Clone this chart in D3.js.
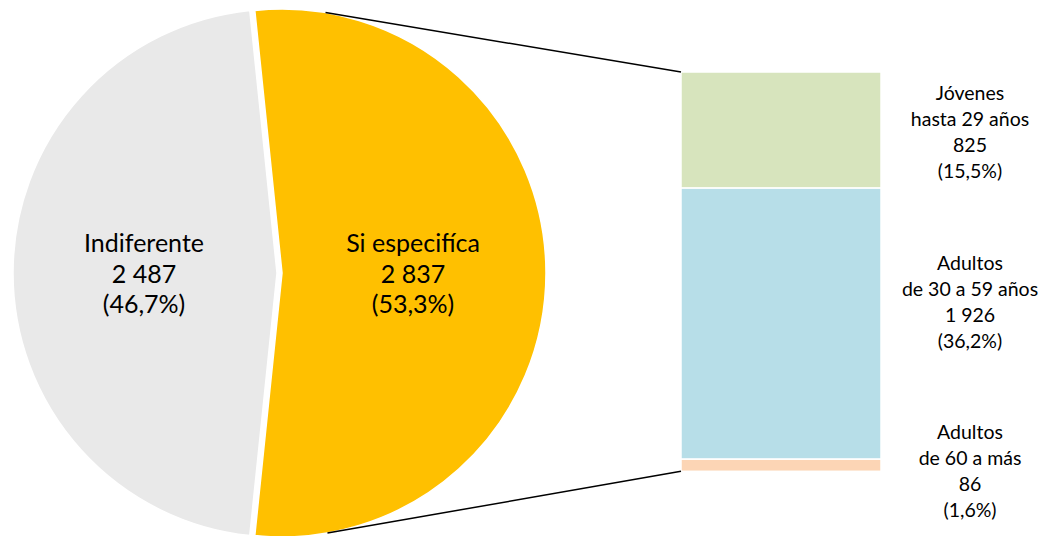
<!DOCTYPE html>
<html>
<head>
<meta charset="utf-8">
<script src="https://cdn.jsdelivr.net/npm/d3@7"></script>
<style>
	body { margin: 0; background: #fff; }
	#chart { width: 1043px; height: 536px; }
	text { font-family: Lato, "Open Sans", sans-serif; fill: #000; }
</style>
</head>
<body>
<div id="chart"><svg width="1043" height="536"></svg></div>
<script>
// data
const pieNames = ["Si especifíca", "Indiferente"];
const pieValues = [2837, 2487];
const pieColors = ["#FFC000", "#E9E9E9"];

const barNames = [["Jóvenes", "hasta 29 años"], ["Adultos", "de 30 a 59 años"], ["Adultos", "de 60 a más"]];
const barValues = [825, 1926, 86];
const barColors = ["#D7E4BD", "#B7DEE8", "#FCD5B5"];

// label centre offsets from segment middle (layout)
const barLabelShift = [2, -21, 6];

const locale = d3.formatLocale({decimal: ",", thousands: " ", grouping: [3], currency: ["", ""]});
const fmtN = locale.format(",d");
const fmtP = locale.format(".1f");

const svg = d3.select("#chart").select("svg");
const total = d3.sum(pieValues);

// pie
const cx = 279.5, cy = 273, r = 264;
const explode = 2.5;
const goldSpan = 2 * Math.PI * pieValues[0] / total;
const start = Math.PI / 2 - goldSpan / 2;

const pie = d3.pie().sort(null).startAngle(start).endAngle(start + 2 * Math.PI);
const arcs = pie(pieValues);
const arc = d3.arc().innerRadius(0).outerRadius(r);

const offset = d => {
	const a = (d.startAngle + d.endAngle) / 2;
	return [explode * Math.sin(a), -explode * Math.cos(a)];
};

const pieG = svg.append("g").attr("transform", `translate(${cx}, ${cy})`);

pieG.selectAll(".slice")
  .data(arcs)
	.enter()
  .append("path")
	.attr("class", "slice")
	.attr("transform", d => `translate(${offset(d)})`)
	.attr("d", arc)
	.attr("fill", (d, i) => pieColors[i])
	.attr("stroke", "#fff")
	.attr("stroke-width", 1.5);

pieG.selectAll(".pieLabel")
  .data(arcs)
	.enter()
  .append("text")
	.attr("class", "pieLabel")
	.attr("text-anchor", "middle")
	.attr("font-size", "25px")
	.each(function(d, i) {
		const c = arc.centroid(d);
		const o = offset(d);
		const lines = [pieNames[i], fmtN(d.value), "(" + fmtP(d.value / total * 100) + "%)"];
		d3.select(this).selectAll("tspan")
		  .data(lines)
			.enter()
		  .append("tspan")
			.attr("x", c[0] + o[0] - 1)
			.attr("y", (l, j) => c[1] + 1 + (j - 1) * 30.5)
			.attr("dy", "0.35em")
			.text(l => l);
	});

// bar
const barX = 681, barW = 200, barTop = 72, barBottom = 471.3;
const yScale = d3.scaleLinear()
	.domain([0, d3.sum(barValues)])
	.range([barTop, barBottom]);

const stack = d3.cumsum([0].concat(barValues));

const barG = svg.append("g");

barG.selectAll(".seg")
  .data(barValues)
	.enter()
  .append("rect")
	.attr("class", "seg")
	.attr("x", barX)
	.attr("width", barW)
	.attr("y", (d, i) => yScale(stack[i]))
	.attr("height", d => yScale(d) - yScale(0))
	.attr("fill", (d, i) => barColors[i])
	.attr("stroke", "#fff")
	.attr("stroke-width", 1.5);

barG.selectAll(".barLabel")
  .data(barValues)
	.enter()
  .append("text")
	.attr("class", "barLabel")
	.attr("text-anchor", "middle")
	.attr("font-size", "19.5px")
	.each(function(d, i) {
		const mid = (yScale(stack[i]) + yScale(stack[i + 1])) / 2 + barLabelShift[i];
		const lines = barNames[i].concat([fmtN(d), "(" + fmtP(d / total * 100) + "%)"]);
		d3.select(this).selectAll("tspan")
		  .data(lines)
			.enter()
		  .append("tspan")
			.attr("x", 970)
			.attr("y", (l, j) => mid + (j - 1.5) * 26)
			.attr("dy", "0.35em")
			.text(l => l);
	});

// connector lines, tangent to the exploded slice
const gold = arcs[0];
const gc = [cx + offset(gold)[0], cy + offset(gold)[1]];

function tangent(px, py, upper) {
	const dx = px - gc[0], dy = py - gc[1];
	const d = Math.sqrt(dx * dx + dy * dy);
	const base = Math.atan2(dy, dx);
	const a = base + (upper ? -1 : 1) * Math.acos(r / d);
	return [gc[0] + r * Math.cos(a), gc[1] + r * Math.sin(a)];
}

const t1 = tangent(barX, yScale(0), true);
const t2 = tangent(barX, yScale(d3.sum(barValues)), false);

svg.append("g").selectAll("line")
  .data([[t1, [barX, yScale(0)]], [t2, [barX, yScale(d3.sum(barValues))]]])
	.enter()
  .append("line")
	.attr("x1", d => d[0][0])
	.attr("y1", d => d[0][1])
	.attr("x2", d => d[1][0])
	.attr("y2", d => d[1][1])
	.attr("stroke", "#000")
	.attr("stroke-width", 1.5);
</script>
</body>
</html>
